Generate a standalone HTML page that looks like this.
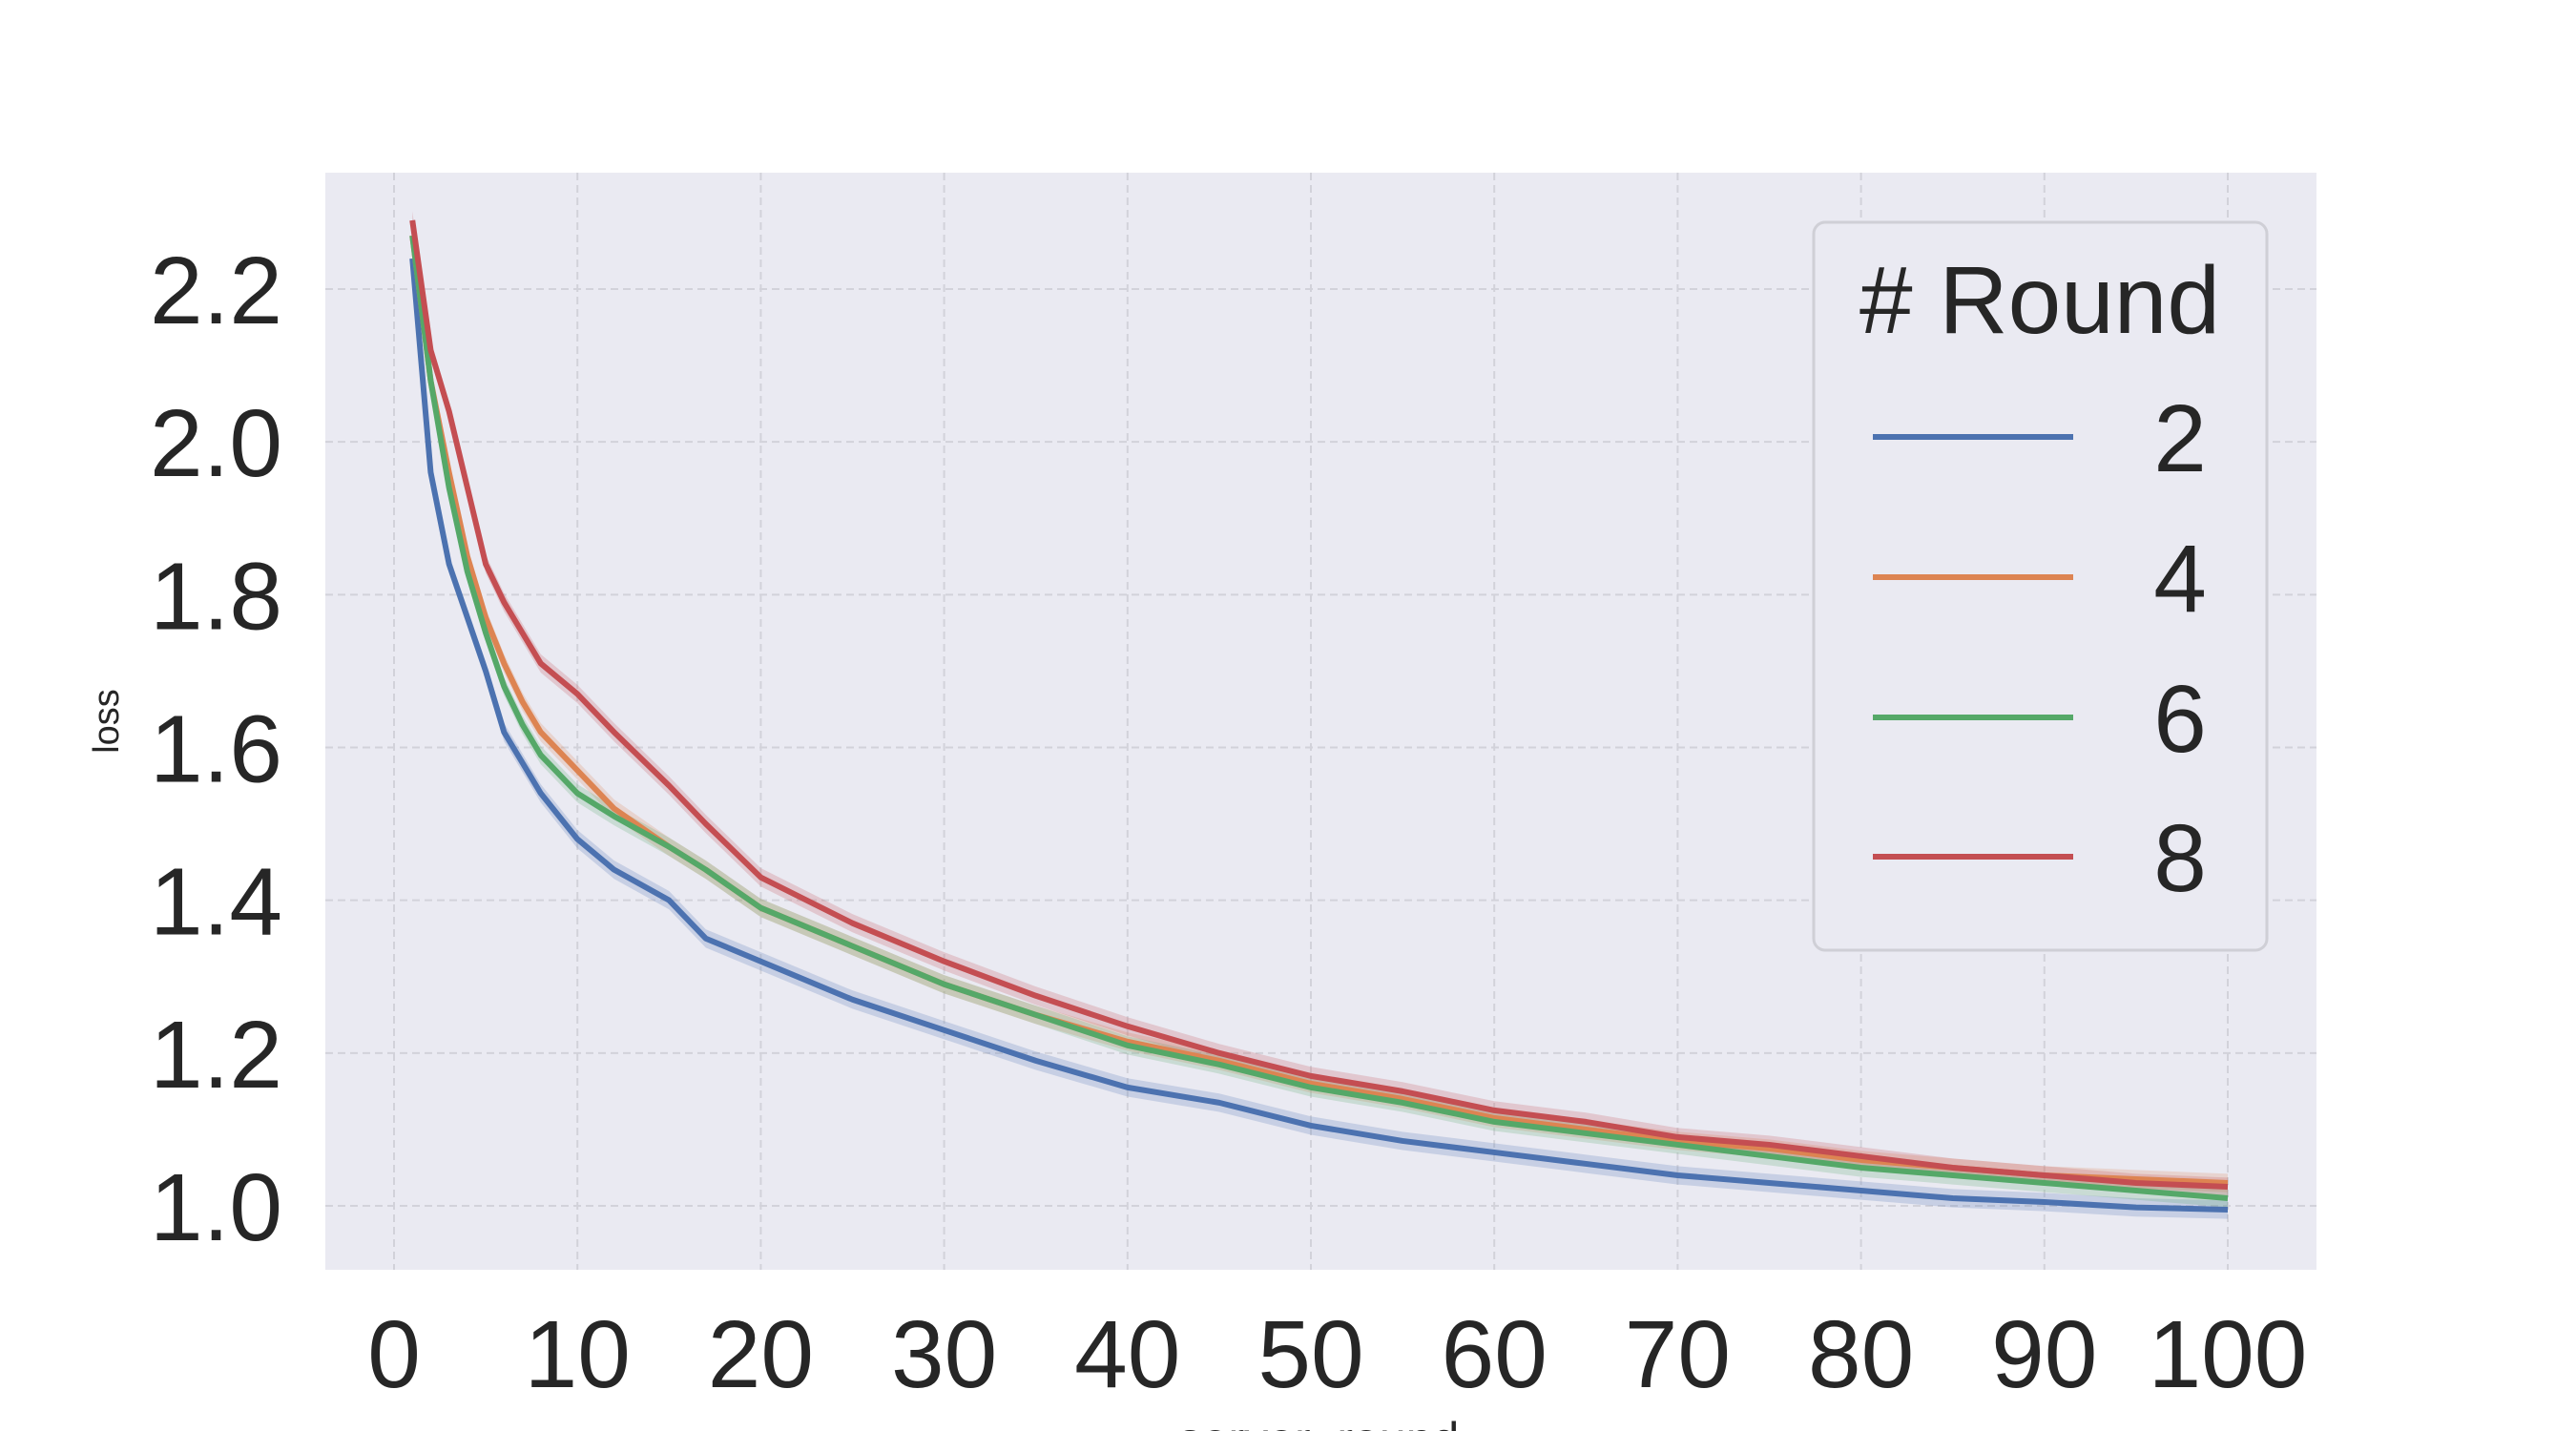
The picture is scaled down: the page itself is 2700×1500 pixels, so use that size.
<!DOCTYPE html>
<html><head><meta charset="utf-8"><style>
html,body{margin:0;padding:0;background:#fff;}
svg{display:block;font-family:"Liberation Sans",sans-serif;}
</style></head><body>
<svg id="chart" width="2700" height="1500" viewBox="0 0 2700 1500">
<rect x="341" y="181" width="2087" height="1150" fill="#eaeaf2"/>
<g id="grid"></g><g id="bands"></g><g id="lines"></g><g id="ticks"></g>
<text x="124" y="756" font-size="38" fill="#262626" text-anchor="middle" transform="rotate(-90 124 756)">loss</text>
<text x="1382" y="1526" font-size="50" fill="#262626" text-anchor="middle">server_round</text>
<g>
<rect x="1901" y="233" width="475" height="763" rx="12" fill="#eaeaf2" stroke="#cfcfd6" stroke-width="3"/>
<text x="2138" y="349" font-size="100" fill="#262626" text-anchor="middle"># Round</text>
<g id="legend-entries"></g>
</g>
</svg>
<script>
const rounds=[1,2,3,4,5,6,7,8,10,12,15,17,20,25,30,35,40,45,50,55,60,65,70,75,80,85,90,95,100];
const s2=[2.24,1.96,1.84,1.77,1.70,1.62,1.58,1.54,1.48,1.44,1.40,1.35,1.32,1.27,1.23,1.19,1.155,1.135,1.105,1.085,1.07,1.055,1.04,1.03,1.02,1.01,1.005,0.998,0.995];
const s4=[2.27,2.08,1.96,1.85,1.77,1.71,1.66,1.62,1.57,1.52,1.47,1.44,1.39,1.34,1.29,1.25,1.215,1.19,1.16,1.14,1.115,1.10,1.085,1.075,1.06,1.05,1.04,1.035,1.03];
const s6=[2.27,2.08,1.94,1.83,1.75,1.68,1.63,1.59,1.54,1.51,1.47,1.44,1.39,1.34,1.29,1.25,1.21,1.185,1.155,1.135,1.11,1.095,1.08,1.065,1.05,1.04,1.03,1.02,1.01];
const s8=[2.29,2.12,2.04,1.94,1.84,1.79,1.75,1.71,1.67,1.62,1.55,1.50,1.43,1.37,1.32,1.275,1.235,1.2,1.17,1.15,1.125,1.11,1.09,1.08,1.065,1.05,1.04,1.03,1.025];
const seriesLabels=["2","4","6","8"];
const xTicks=[0,10,20,30,40,50,60,70,80,90,100];
const yTicks=[1.0,1.2,1.4,1.6,1.8,2.0,2.2];
const bandHalf=0.012;
const colors=["#4c72b0","#dd8452","#55a868","#c44e52"];
const series=[s2,s4,s6,s8];
const NS="http://www.w3.org/2000/svg";
const X=v=>413+(v/100)*(2335-413);
const Y=v=>1264-(v-1.0)/1.2*(1264-303);
function mk(tag,attrs,parent){const e=document.createElementNS(NS,tag);for(const k in attrs)e.setAttribute(k,attrs[k]);parent.appendChild(e);return e;}
const grid=document.getElementById('grid'),ticks=document.getElementById('ticks');
xTicks.forEach(t=>{
 const l=mk('line',{x1:X(t),x2:X(t),y1:181,y2:1331,stroke:'#d2d2da','stroke-width':2,'stroke-dasharray':'8 5'},grid);
 
 
 const tx=mk('text',{x:X(t),y:1454,'font-size':100,fill:'#262626','text-anchor':'middle'},ticks);
 tx.textContent=t;
 
 
});
yTicks.forEach(t=>{
 const l=mk('line',{x1:341,x2:2428,y1:Y(t),y2:Y(t),stroke:'#d2d2da','stroke-width':2,'stroke-dasharray':'8 5'},grid);
 
 
 const tx=mk('text',{x:296,y:Y(t)+36,'font-size':100,fill:'#262626','text-anchor':'end'},ticks);
 tx.textContent=t.toFixed(1);
 
 
});
const bands=document.getElementById('bands'),lines=document.getElementById('lines');
series.forEach((s,i)=>{
 let up=rounds.map((r,j)=>X(r)+','+Y(s[j]+bandHalf)).join(' ');
 let dn=rounds.map((r,j)=>X(r)+','+Y(s[j]-bandHalf)).reverse().join(' ');
 const b=mk('polygon',{points:up+' '+dn,fill:colors[i],'fill-opacity':0.22},bands);
 
 
 const p=mk('polyline',{points:rounds.map((r,j)=>X(r)+','+Y(s[j])).join(' '),fill:'none',stroke:colors[i],'stroke-width':6,'stroke-linejoin':'round'},lines);
 
 
});
const le=document.getElementById('legend-entries');
const ly=[458,605,752,898];
seriesLabels.forEach((lab,i)=>{
 const g=mk('g',{},le);
 
 
 mk('line',{x1:1963,x2:2173,y1:ly[i],y2:ly[i],stroke:colors[i],'stroke-width':6},g);
 const t=mk('text',{x:2285,y:ly[i]+36,'font-size':100,fill:'#262626','text-anchor':'middle'},g);
 t.textContent=lab;
});
</script>
</body></html>
